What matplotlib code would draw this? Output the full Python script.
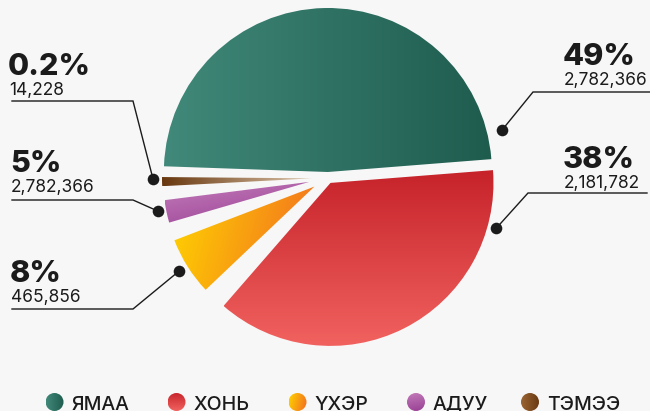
import numpy as np
import matplotlib.pyplot as plt
from matplotlib.colors import to_rgb
from matplotlib.patches import Circle

plt.rcParams['font.family'] = ['Inter', 'DejaVu Sans']

# ---- data ----
names = ['ЯМАА', 'ХОНЬ', 'ҮХЭР', 'АДУУ', 'ТЭМЭЭ']
pct_labels = ['49%', '38%', '8%', '5%', '0.2%']
count_labels = ['2,782,366', '2,181,782', '465,856', '2,782,366', '14,228']
# angular size of each drawn slice (deg) and the empty gap that follows it
slice_deg = [173.5, 135.5, 22.5, 9.0, 3.5]
gap_deg = [0.0, 5.5, 4.8, 4.2, 1.5]

# gradient start/end colours and direction per slice
grad_colors = [('#41897a', '#1e5c4e'), ('#c6232a', '#f1625f'),
               ('#ffd400', '#f26a22'), ('#c47dba', '#983f94'),
               ('#68380f', '#dcc4aa')]
grad_angle = [0, -90, -15, -80, 0]
# legend dots use the same colours, except the camel dot stays dark
leg_colors = grad_colors[:4] + [('#9a6534', '#6a3a12')]

BG = '#f7f7f7'
INK = '#1b1b1b'
W, H = 650, 411


def Y(y):
    # picture rows -> data y (axes run in pixels, y up)
    return H - y


def fill_gradient(ax, patch, c0, c1, angle):
    x0, y0, x1, y1 = patch.get_path().transformed(patch.get_patch_transform()).get_extents().extents
    xs = np.linspace(x0, x1, 200)
    ys = np.linspace(y0, y1, 200)
    gx, gy = np.meshgrid(xs, ys)
    a = np.deg2rad(angle)
    t = gx * np.cos(a) + gy * np.sin(a)
    t = (t - t.min()) / (t.max() - t.min())
    c0, c1 = np.array(to_rgb(c0)), np.array(to_rgb(c1))
    img = c0 + (c1 - c0) * t[..., None]
    im = ax.imshow(img, extent=(x0, x1, y0, y1), origin='lower',
                   interpolation='bilinear', zorder=patch.get_zorder())
    im.set_clip_path(patch)
    patch.set_facecolor('none')


fig = plt.figure(figsize=(W / 100, H / 100), dpi=100, facecolor=BG)
ax = fig.add_axes([0, 0, 1, 1])
ax.set_facecolor(BG)

# pie with empty wedges standing in for the gaps between slices
# (explode is in data units here, i.e. pixels)
values, explode, is_slice = [], [], []
slice_explode = [6, 5.5, 16, 19, 16]
for s, g, e in zip(slice_deg, gap_deg, slice_explode):
    values.append(s); explode.append(e); is_slice.append(True)
    if g > 0:
        values.append(g); explode.append(0); is_slice.append(False)

center = (328, Y(178))
wedges, _ = ax.pie(values, explode=explode, startangle=178, counterclock=False,
                   radius=164, center=center, wedgeprops=dict(linewidth=0))

slices = [w for w, keep in zip(wedges, is_slice) if keep]
for w, keep in zip(wedges, is_slice):
    if not keep:
        w.set_visible(False)

slice_r = [164, 163, 150, 146, 150]
for w, r in zip(slices, slice_r):
    w.set_radius(r)

for w, (c0, c1), ang in zip(slices, grad_colors, grad_angle):
    fill_gradient(ax, w, c0, c1, ang)

# ---- leader lines and labels ----
dot_at = [(13.5, 179), (-15.2, 172), (212, 160), (191, 154), (180.2, 159)]
elbow = [(533, 92), (528, 193), (133, 309), (133, 200), (133, 101)]
line_end = [650, 647, 12, 12, 12]
text_x = [563, 563, 10, 10, 8]
pct_base = [65, 168, 282, 172, 75]

for i, w in enumerate(slices):
    ang, dist = dot_at[i]
    cx, cy = w.center
    dx = cx + dist * np.cos(np.deg2rad(ang))
    dy = cy + dist * np.sin(np.deg2rad(ang))
    ex, ey = elbow[i]
    ax.plot([dx, ex, line_end[i]], [dy, Y(ey), Y(ey)], color=INK, lw=1.0,
            solid_joinstyle='miter', zorder=5)
    ax.scatter([dx], [dy], s=70, color=INK, zorder=6, linewidths=0)
    ax.text(text_x[i], Y(pct_base[i]), pct_labels[i], fontsize=22,
            fontweight='heavy', color=INK, ha='left', va='baseline')
    ax.text(text_x[i] + 1, Y(pct_base[i] + 20), count_labels[i], fontsize=12.5,
            color=INK, ha='left', va='baseline')

# ---- legend ----
leg_x = [54.5, 176.5, 297.5, 416, 530]
for i, name in enumerate(names):
    dot = Circle((leg_x[i], Y(402)), 9, linewidth=0, zorder=4)
    ax.add_patch(dot)
    fill_gradient(ax, dot, leg_colors[i][0], leg_colors[i][1], grad_angle[i])
    ax.text(leg_x[i] + 17, Y(410), name, fontsize=14, fontweight='medium',
            color=INK, ha='left', va='baseline')

ax.set_xlim(0, W)
ax.set_ylim(0, H)
ax.set_aspect('auto')
ax.axis('off')

fig.savefig('out.png', dpi=100, facecolor=BG)
